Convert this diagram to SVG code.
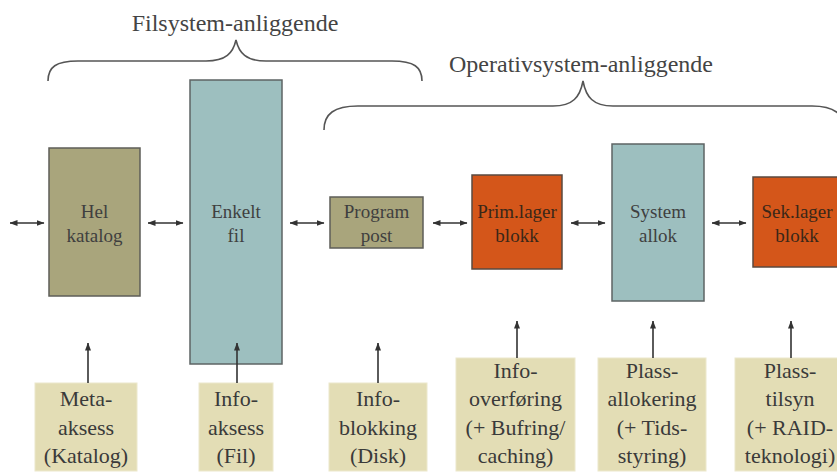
<svg xmlns="http://www.w3.org/2000/svg" width="837" height="472" viewBox="0 0 837 472">
  <style>
    text { font-family: "Liberation Serif", Tinos, "DejaVu Serif", serif; }
    .title { font-size: 24px; fill: #444; text-anchor: middle; }
    .lbl { font-size: 19px; fill: #3f3f3f; text-anchor: middle; }
    .lbl-dark { fill: #3a2718; }
    .note { font-size: 22px; fill: #3a3a3a; text-anchor: middle; }
    .olive { fill: #a9a57c; stroke: #5e5e58; stroke-width: 1.5; }
    .teal { fill: #9dbfbf; stroke: #5e6464; stroke-width: 1.5; }
    .orange { fill: #d4561a; stroke: #5a4a40; stroke-width: 1.5; }
    .beige { fill: #e3ddb5; stroke: #ece8cc; stroke-width: 1; }
    .brace { fill: none; stroke: #555; stroke-width: 1.6; }
    .link { stroke: #333; stroke-width: 1.6; fill: none; }
  </style>
  <defs>
    <marker id="head" viewBox="0 0 8 6" refX="7.5" refY="3" markerWidth="8" markerHeight="6" markerUnits="userSpaceOnUse" orient="auto-start-reverse">
      <path d="M0,0 L8,3 L0,6 Z" fill="#333"/>
    </marker>
  </defs>

  <!-- group headings with braces -->
  <g id="filsystem-heading">
    <text class="title" x="235" y="31" font-family="Liberation Serif, serif">Filsystem-anliggende</text>
    <path class="brace" d="M48,81 C48,67 56,61 78,61 L206,61 C226,61 233,53 236,40 C239,53 246,61 266,61 L392,61 C414,61 422,67 422,81"/>
  </g>
  <g id="os-heading">
    <text class="title" x="581" y="72">Operativsystem-anliggende</text>
    <path class="brace" d="M324,130 C324,114 334,106 358,106 L553,106 C573,106 580,97 583,81 C586,97 593,106 613,106 L812,106 C834,106 844,114 846,130"/>
  </g>

  <!-- main chain -->
  <g id="hel-katalog">
    <rect class="olive" x="49" y="148" width="91" height="148"/>
    <text class="lbl" x="94.5" y="218">Hel</text>
    <text class="lbl" x="94.5" y="242">katalog</text>
  </g>
  <g id="enkelt-fil">
    <rect class="teal" x="190" y="80" width="92" height="284"/>
    <text class="lbl" x="236" y="218">Enkelt</text>
    <text class="lbl" x="236" y="242">fil</text>
  </g>
  <g id="program-post">
    <rect class="olive" x="330" y="197" width="93" height="51"/>
    <text class="lbl" x="376.5" y="218">Program</text>
    <text class="lbl" x="376.5" y="242">post</text>
  </g>
  <g id="primlager-blokk">
    <rect class="orange" x="472" y="175" width="90" height="94"/>
    <text class="lbl lbl-dark" x="517" y="218">Prim.lager</text>
    <text class="lbl lbl-dark" x="517" y="242">blokk</text>
  </g>
  <g id="system-allok">
    <rect class="teal" x="612" y="144" width="92" height="157"/>
    <text class="lbl" x="658" y="218">System</text>
    <text class="lbl" x="658" y="242">allok</text>
  </g>
  <g id="seklager-blokk">
    <rect class="orange" x="753" y="177" width="90" height="90"/>
    <text class="lbl lbl-dark" x="797" y="218">Sek.lager</text>
    <text class="lbl lbl-dark" x="797" y="242">blokk</text>
  </g>

  <!-- aspects below the chain -->
  <g id="meta-aksess">
    <rect class="beige" x="35" y="383" width="102" height="88"/>
    <text class="note" x="86" y="406">Meta-</text>
    <text class="note" x="86" y="434.5">aksess</text>
    <text class="note" x="86" y="463">(Katalog)</text>
  </g>
  <g id="info-aksess">
    <rect class="beige" x="199" y="383" width="74" height="88"/>
    <text class="note" x="236" y="406">Info-</text>
    <text class="note" x="236" y="434.5">aksess</text>
    <text class="note" x="236" y="463">(Fil)</text>
  </g>
  <g id="info-blokking">
    <rect class="beige" x="329" y="383" width="98" height="88"/>
    <text class="note" x="378" y="406">Info-</text>
    <text class="note" x="378" y="434.5">blokking</text>
    <text class="note" x="378" y="463">(Disk)</text>
  </g>
  <g id="info-overforing">
    <rect class="beige" x="456" y="358" width="119" height="113"/>
    <text class="note" x="515.5" y="377.5">Info-</text>
    <text class="note" x="515.5" y="406">overføring</text>
    <text class="note" x="515.5" y="434.5">(+ Bufring/</text>
    <text class="note" x="515.5" y="463">caching)</text>
  </g>
  <g id="plass-allokering">
    <rect class="beige" x="598" y="358" width="108" height="113"/>
    <text class="note" x="652" y="377.5">Plass-</text>
    <text class="note" x="652" y="406">allokering</text>
    <text class="note" x="652" y="434.5">(+ Tids-</text>
    <text class="note" x="652" y="463">styring)</text>
  </g>
  <g id="plass-tilsyn">
    <rect class="beige" x="735" y="358" width="110" height="113"/>
    <text class="note" x="790" y="377.5">Plass-</text>
    <text class="note" x="790" y="406">tilsyn</text>
    <text class="note" x="790" y="434.5">(+ RAID-</text>
    <text class="note" x="790" y="463">teknologi)</text>
  </g>

  <!-- connectors -->
  <g id="connectors">
    <line class="link" x1="10" y1="223" x2="44" y2="223" marker-start="url(#head)" marker-end="url(#head)"/>
    <line class="link" x1="148" y1="223" x2="183" y2="223" marker-start="url(#head)" marker-end="url(#head)"/>
    <line class="link" x1="290" y1="223" x2="324" y2="223" marker-start="url(#head)" marker-end="url(#head)"/>
    <line class="link" x1="433" y1="223" x2="467" y2="223" marker-start="url(#head)" marker-end="url(#head)"/>
    <line class="link" x1="571" y1="223" x2="605" y2="223" marker-start="url(#head)" marker-end="url(#head)"/>
    <line class="link" x1="712" y1="223" x2="746" y2="223" marker-start="url(#head)" marker-end="url(#head)"/>

    <line class="link" x1="88" y1="383" x2="88" y2="343" marker-end="url(#head)"/>
    <line class="link" x1="237" y1="383" x2="237" y2="343" marker-end="url(#head)"/>
    <line class="link" x1="378" y1="383" x2="378" y2="343" marker-end="url(#head)"/>
    <line class="link" x1="517" y1="358" x2="517" y2="321" marker-end="url(#head)"/>
    <line class="link" x1="653" y1="358" x2="653" y2="321" marker-end="url(#head)"/>
    <line class="link" x1="791" y1="358" x2="791" y2="321" marker-end="url(#head)"/>
  </g>
</svg>
